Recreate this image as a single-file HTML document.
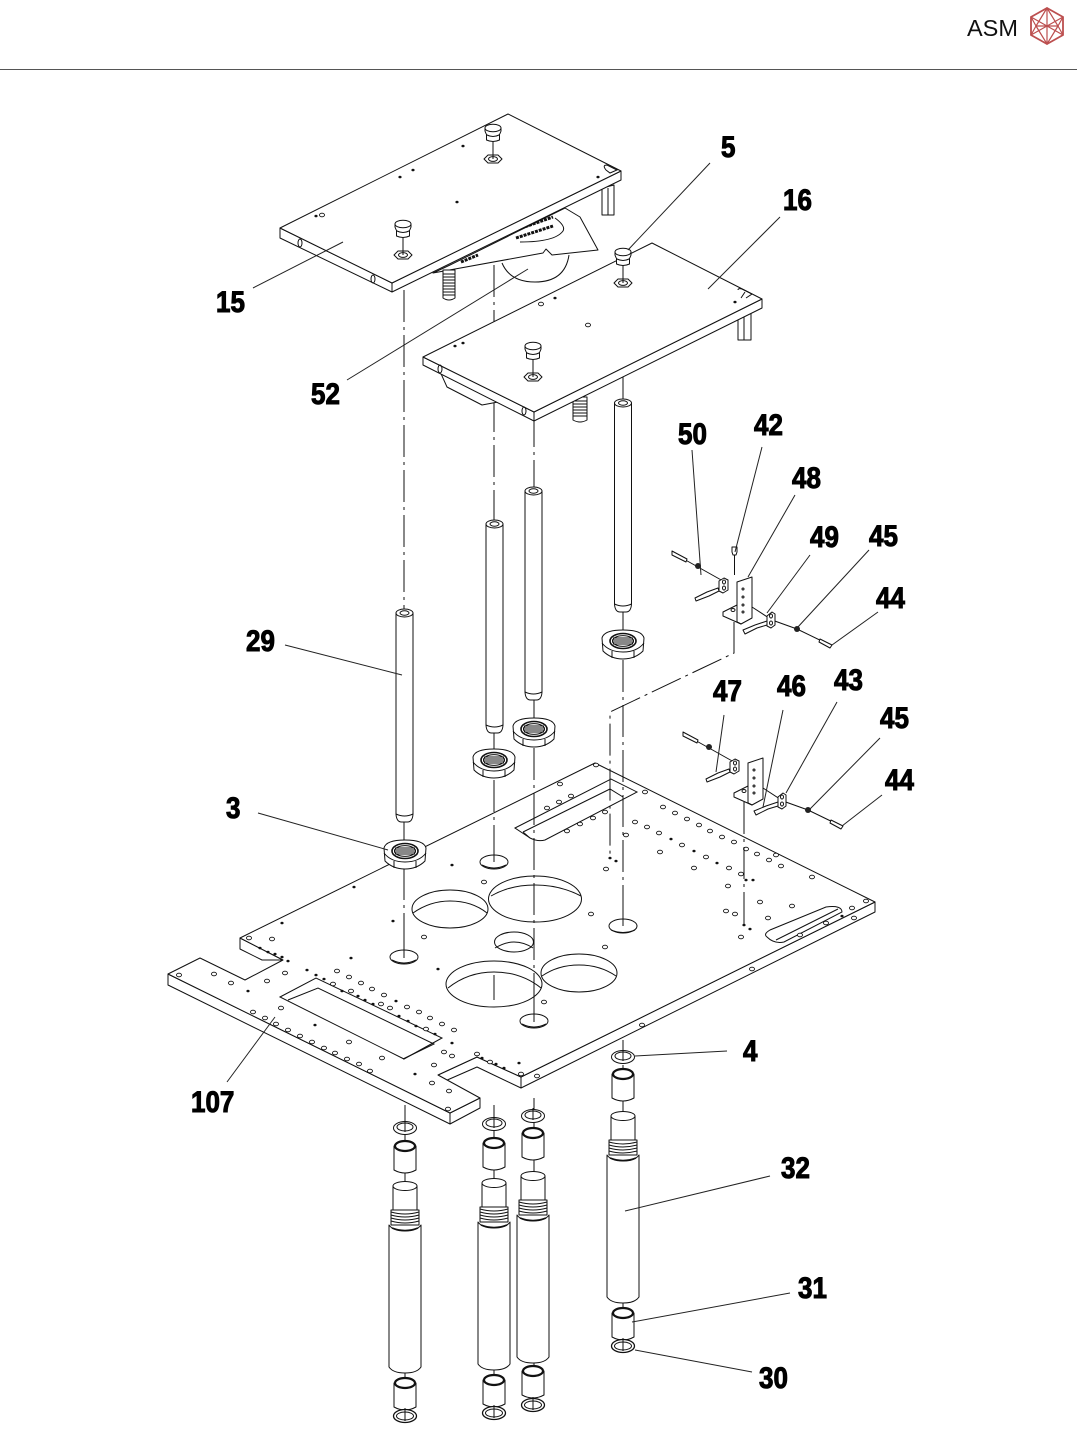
<!DOCTYPE html>
<html>
<head>
<meta charset="utf-8">
<style>
html,body{margin:0;padding:0;background:#fff;width:1077px;height:1449px;overflow:hidden}
svg{display:block}
.l{fill:none;stroke:#111;stroke-width:1}
.p{fill:#fff;stroke:#111;stroke-width:1;stroke-linejoin:round}
.ch{fill:none;stroke:#111;stroke-width:1;stroke-dasharray:32 5 3 5}
.ld{fill:none;stroke:#222;stroke-width:1}
.t{font:bold 26px "Liberation Sans",sans-serif;fill:#000;stroke:#000;stroke-width:.9}
</style>
</head>
<body>
<svg width="1077" height="1449" viewBox="0 0 1077 1449" xmlns="http://www.w3.org/2000/svg">
<defs>
<ellipse id="h" rx="2.5" ry="1.8" fill="#fff" stroke="#111" stroke-width=".9"/>
<ellipse id="d" rx="1.6" ry="1.3" fill="#111"/>
<g id="knob">
 <path class="l" d="M0 10V28"/>
 <path class="p" d="M-9 28L-5 24H5L9 28L5 32H-5Z"/>
 <ellipse class="l" cx="0" cy="28" rx="4.5" ry="2.4"/>
 <path class="l" d="M0 14V28"/>
 <path class="p" d="M-6.5 0V9Q0 12 6.5 9V0Z"/>
 <path class="p" d="M-8 -3V0Q-7 3 -6 4Q0 7 6 4Q7 3 8 0V-3Z"/>
 <ellipse class="p" cx="0" cy="-3" rx="8" ry="3.8"/>
</g>
<g id="rod">
 <path class="p" d="M-8.5 3V204Q-8 212 -3 212H3Q8 212 8.5 204V3Z"/>
 <ellipse class="p" cx="0" cy="3" rx="8.5" ry="4"/>
 <ellipse class="l" cx="0" cy="3" rx="4.5" ry="2.2"/>
 <path class="l" d="M-8.5 204Q0 208 8.5 204"/>
</g>
<g id="nut">
 <path class="p" d="M-21 -3Q-19 -11 0 -11Q19 -11 21 -3L20 10Q12 18 0 18Q-12 18 -20 10Z"/>
 <path class="l" d="M-21 2Q-14 11 0 11Q14 11 21 2M-11 10V17M11 10V17"/>
 <ellipse cx="0" cy="0" rx="13" ry="7.5" fill="#fff" stroke="#111" stroke-width="1.6"/>
 <ellipse class="l" cx="0" cy="0" rx="10.5" ry="5.4"/>
 <path class="l" d="M-10 -3H10M-11 -1H11M-11 1H11M-10 3H10"/>
</g>
<g id="tube">
 <path class="p" d="M-12 -39V-15H12V-39Z"/>
 <ellipse class="p" cx="0" cy="-39" rx="12" ry="4.5"/>
 <path class="p" d="M-14 -15V0H14V-15Z"/>
 <path class="l" d="M-14 -13Q0 -9 14 -13M-14 -10Q0 -6 14 -10M-14 -7Q0 -3 14 -7M-14 -4Q0 0 14 -4"/>
 <path class="p" d="M-16 0V142Q-12 148 0 148Q12 148 16 142V0Q12 6 0 6Q-12 6 -16 0Z"/>
 <path d="M-13 3Q0 8 13 3" fill="none" stroke="#111" stroke-width="1.6"/>
</g>
<g id="sl">
 <path class="p" d="M-11 0V24Q0 30 11 24V0Z"/>
 <ellipse cx="0" cy="0" rx="10" ry="5" fill="#fff" stroke="#111" stroke-width="2.2"/>
</g>
<g id="wu">
 <ellipse class="p" cx="0" cy="0" rx="11.5" ry="6.5"/>
 <ellipse class="l" cx="0" cy="-1" rx="8" ry="4"/>
 <path class="l" d="M0 -8V4"/>
</g>
<g id="wl">
 <ellipse cx="0" cy="0" rx="11.5" ry="6.5" fill="#fff" stroke="#111" stroke-width="1.3"/>
 <ellipse class="l" cx="0" cy="0" rx="8.5" ry="4"/>
 <path class="l" d="M0 -8V5"/>
</g>
<g id="hw">
 <path class="l" d="M673 553L723 581M752 607L772 620L797 629L830 645"/>
 <path class="p" d="M672 551L687 559L686 562L672 555Z"/>
 <ellipse cx="698" cy="566" rx="3" ry="3" fill="#222"/>
 <path class="p" d="M719 581L724 578L728 580V590L723 593L719 591Z"/>
 <ellipse class="l" cx="724" cy="582" rx="1.5" ry="2"/><ellipse class="l" cx="724" cy="588" rx="1.5" ry="2"/>
 <path class="p" d="M695 598L707 592L718 588L719 591L709 596L696 601Z"/>
 <path class="p" d="M737 582L752 577V618L741 624L737 622Z"/>
 <path class="p" d="M723 612L737 605V622L741 624L723 616Z"/>
 <circle class="l" cx="743" cy="589" r="1"/><circle class="l" cx="743" cy="597" r="1"/><circle class="l" cx="743" cy="605" r="1"/><circle class="l" cx="743" cy="612" r="1"/><ellipse class="l" cx="733" cy="610" rx="2" ry="1.5"/>
 <path class="p" d="M767 616L772 612L775 614V625L771 628L767 626Z"/>
 <ellipse class="l" cx="771" cy="616" rx="1.5" ry="2"/><ellipse class="l" cx="771" cy="623" rx="1.5" ry="2"/>
 <path class="p" d="M743 630L755 625L767 621L767 625L757 628L745 634Z"/>
 <ellipse cx="797" cy="629" rx="3" ry="3" fill="#222"/>
 <path class="p" d="M820 639L832 645L830 648L819 642Z"/>
</g>
</defs>

<!-- Header -->
<text x="967" y="36" style="font:23.5px 'Liberation Sans',sans-serif" fill="#111">ASM</text>
<g fill="none" stroke="#bc4f4f" stroke-width="1.2">
 <path stroke-width="1.8" d="M1047 8L1063 17V35L1047 44L1031 35V17Z"/>
 <path d="M1031 17L1063 35M1063 17L1031 35M1047 8V44M1047 8L1036 26H1058ZM1036 26L1047 44L1058 26M1031 17L1036 26M1063 17L1058 26M1031 35L1036 26M1063 35L1058 26"/>
</g>
<path d="M0 69.5H1077" stroke="#555" stroke-width="1"/>

<!-- Main plate -->
<path class="p" d="M875 902V912L521 1088V1077ZM521 1088L477 1067L445 1081L438 1075L477 1057L521 1077Z"/>
<path class="p" d="M480 1098V1108L450 1124V1113ZM168 974V985L450 1124V1113Z"/>
<path class="p" d="M240 938V949L262 960L283 960L240 938Z"/>
<path class="p" d="M595 763L875 902L521 1077L477 1057L438 1075L480 1098L450 1113L168 974L200 958L245 980L283 960L240 938Z"/>

<!-- Slots -->
<path class="l" d="M515 828L611 779L637 792L545 840Q538 842 530 838Z"/>
<path class="l" d="M523 832L610 789L623 797M523 832L530 838"/>
<path class="l" d="M280 997L316 978L442 1038L404 1059Z"/>
<path class="l" d="M288 1000L318 988L434 1044L403 1059"/>
<path class="l" d="M767 937Q763 934 770 930L826 907Q842 905 842 912L784 942Q774 944 767 937Z"/>
<path class="l" d="M776 940L838 909"/>

<!-- Big holes -->
<g>
 <ellipse class="p" cx="450" cy="909" rx="38" ry="19"/><path class="l" d="M413 913Q430 901 450 901Q472 901 487 913"/>
 <ellipse class="p" cx="535" cy="899" rx="46.5" ry="23"/><path class="l" d="M491 896Q510 885 535 885Q560 885 581 896"/>
 <ellipse class="p" cx="514" cy="942" rx="19.5" ry="10"/><path class="l" d="M495 948Q505 942 514 942Q524 942 533 948"/>
 <ellipse class="p" cx="494" cy="984" rx="48" ry="23"/><path class="l" d="M448 988Q468 972 494 972Q521 972 541 988"/>
 <ellipse class="p" cx="579" cy="973" rx="38" ry="19"/><path class="l" d="M542 976Q558 965 579 965Q600 965 616 976"/>
 <path class="l" d="M494 975V1000"/>
</g>
<g>
 <ellipse class="p" cx="404" cy="957" rx="14" ry="7"/><path class="l" d="M392 960Q404 966 416 960M404 938V958"/>
 <ellipse class="p" cx="494" cy="862" rx="14" ry="7"/><path class="l" d="M482 865Q494 871 506 865M494 845V862"/>
 <ellipse class="p" cx="623" cy="926" rx="14" ry="7"/><path class="l" d="M611 930Q623 935 635 930M623 908V926"/>
 <ellipse class="p" cx="534" cy="1021" rx="14" ry="7"/><path class="l" d="M522 1024Q534 1030 546 1024M534 1000V1022"/>
</g>

<!-- Small holes -->
<g>
<use href="#h" x="663" y="807"/><use href="#h" x="675" y="813"/><use href="#h" x="687" y="819"/><use href="#h" x="699" y="825"/><use href="#h" x="710" y="831"/><use href="#h" x="722" y="837"/><use href="#h" x="734" y="842"/><use href="#h" x="746" y="849"/><use href="#h" x="757" y="854"/><use href="#h" x="769" y="860"/><use href="#h" x="781" y="866"/>
<use href="#h" x="635" y="822"/><use href="#h" x="647" y="827"/><use href="#h" x="659" y="833"/><use href="#d" x="671" y="839"/><use href="#h" x="682" y="845"/><use href="#d" x="694" y="851"/><use href="#h" x="706" y="857"/><use href="#d" x="717" y="863"/><use href="#h" x="729" y="868"/><use href="#h" x="741" y="874"/>
<use href="#h" x="626" y="835"/><use href="#h" x="660" y="852"/><use href="#h" x="694" y="868"/><use href="#h" x="728" y="886"/><use href="#h" x="760" y="902"/><use href="#h" x="792" y="906"/><use href="#h" x="768" y="918"/><use href="#h" x="726" y="911"/><use href="#h" x="735" y="914"/><use href="#h" x="741" y="937"/><use href="#h" x="812" y="877"/><use href="#h" x="776" y="855"/><use href="#h" x="852" y="908"/><use href="#h" x="800" y="935"/><use href="#h" x="826" y="923"/><use href="#d" x="842" y="916"/><use href="#d" x="746" y="880"/><use href="#d" x="753" y="880"/><use href="#d" x="610" y="858"/><use href="#d" x="616" y="861"/>
<use href="#d" x="744" y="925"/><use href="#d" x="750" y="929"/><use href="#h" x="560" y="784"/><use href="#h" x="571" y="796"/><use href="#h" x="559" y="802"/><use href="#h" x="547" y="808"/><use href="#h" x="605" y="812"/><use href="#h" x="593" y="818"/><use href="#h" x="580" y="824"/><use href="#h" x="567" y="831"/><use href="#h" x="645" y="792"/><use href="#h" x="596" y="765"/>
<use href="#h" x="606" y="869"/><use href="#h" x="484" y="882"/><use href="#h" x="591" y="914"/><use href="#h" x="424" y="937"/><use href="#h" x="605" y="947"/><use href="#h" x="544" y="1002"/>
<use href="#h" x="337" y="971"/><use href="#h" x="349" y="977"/><use href="#h" x="361" y="983"/><use href="#h" x="372" y="989"/><use href="#h" x="384" y="995"/><use href="#d" x="396" y="1001"/><use href="#h" x="407" y="1007"/><use href="#h" x="419" y="1012"/><use href="#h" x="430" y="1018"/><use href="#h" x="442" y="1024"/>
<use href="#d" x="324" y="979"/><use href="#h" x="333" y="984"/><use href="#d" x="342" y="991"/><use href="#h" x="351" y="991"/><use href="#d" x="358" y="996"/><use href="#d" x="365" y="1000"/><use href="#d" x="373" y="1004"/><use href="#h" x="381" y="1004"/><use href="#h" x="390" y="1008"/><use href="#d" x="399" y="1016"/><use href="#d" x="408" y="1021"/><use href="#d" x="416" y="1026"/><use href="#h" x="426" y="1029"/><use href="#d" x="435" y="1034"/>
<use href="#h" x="454" y="1030"/><use href="#d" x="452" y="1043"/><use href="#h" x="444" y="1052"/><use href="#h" x="452" y="1056"/><use href="#h" x="434" y="1065"/><use href="#h" x="432" y="1083"/><use href="#h" x="449" y="1091"/><use href="#d" x="415" y="1074"/><use href="#h" x="382" y="1058"/><use href="#h" x="359" y="1064"/><use href="#h" x="347" y="1059"/><use href="#h" x="370" y="1071"/><use href="#h" x="335" y="1053"/><use href="#h" x="324" y="1048"/><use href="#h" x="312" y="1042"/><use href="#h" x="300" y="1036"/><use href="#h" x="288" y="1030"/><use href="#h" x="276" y="1024"/><use href="#h" x="265" y="1018"/><use href="#h" x="253" y="1012"/><use href="#h" x="281" y="1008"/><use href="#h" x="349" y="1042"/><use href="#d" x="315" y="1025"/><use href="#d" x="248" y="991"/><use href="#h" x="231" y="983"/><use href="#h" x="267" y="981"/><use href="#h" x="285" y="973"/><use href="#h" x="214" y="974"/><use href="#h" x="179" y="975"/><use href="#h" x="249" y="938"/><use href="#h" x="272" y="939"/><use href="#d" x="260" y="948"/><use href="#d" x="268" y="952"/><use href="#d" x="275" y="954"/><use href="#d" x="282" y="957"/><use href="#d" x="288" y="961"/><use href="#d" x="307" y="970"/><use href="#d" x="316" y="975"/><use href="#d" x="351" y="958"/><use href="#d" x="282" y="923"/><use href="#d" x="393" y="921"/><use href="#d" x="438" y="969"/><use href="#d" x="452" y="865"/><use href="#d" x="354" y="887"/>
<use href="#h" x="477" y="1054"/><use href="#d" x="482" y="1058"/><use href="#h" x="490" y="1062"/><use href="#d" x="496" y="1064"/><use href="#d" x="504" y="1068"/><use href="#d" x="519" y="1063"/><use href="#h" x="521" y="1074"/><use href="#h" x="537" y="1076"/><use href="#h" x="642" y="1025"/><use href="#h" x="752" y="969"/><use href="#h" x="854" y="918"/><use href="#h" x="866" y="901"/><use href="#h" x="448" y="1109"/>
</g>

<!-- Chain centre lines (over the main plate) -->
<g>
 <path class="ch" d="M404 290V612"/>
 <path class="ch" d="M494 265V525"/>
 <path class="ch" d="M534 415V492"/>
 <path class="ch" d="M623 375V402"/>
 <path class="ch" d="M404 822V845"/>
 <path class="ch" d="M404 868V940"/>
 <path class="ch" d="M494 733V752"/>
 <path class="ch" d="M494 780V846"/>
 <path class="ch" d="M534 698V722"/>
 <path class="ch" d="M534 748V1003"/>
 <path class="ch" d="M623 610V632"/>
 <path class="ch" d="M623 660V910"/>
 <path class="ch" d="M734 622V653L610 712V858"/>
 <path class="ch" d="M744 802V925"/>
</g>

<!-- Mechanism under plate 15 -->
<path class="l" d="M502 263Q510 282 535 282Q565 282 569 255"/>
<path class="p" d="M433 273L543 253L546 249L552 255L598 250L580 217L565 208L450 265Z"/>
<path class="l" d="M555 218Q566 226 563 231Q555 242 520 242"/>
<path d="M461 262L478 255M510 232L553 217M516 238L553 226" fill="none" stroke="#111" stroke-width="3" stroke-dasharray="3 1"/>
<!-- Threaded bolt under plate 15 -->
<path class="p" d="M443 270V298Q449 302 455 298V270Z"/>
<path class="l" d="M443 274H455M443 277H455M443 280H455M443 283H455M443 286H455M443 289H455M443 292H455M443 295H455"/>
<!-- Spacer pins plate 15 -->
<path class="p" d="M602 188V215H614V185Z"/><path class="l" d="M608 188V215"/>
<!-- Plate 15 -->
<path class="p" d="M280 228V238L392 292V283ZM392 292L621 180V171L392 283Z"/>
<path class="p" d="M508 114L621 171L392 283L280 228Z"/>
<ellipse class="l" cx="300" cy="243" rx="2" ry="4"/><ellipse class="l" cx="373" cy="279" rx="2" ry="4"/>
<path class="l" d="M606 170Q602 165 607 165L617 170L610 173Z"/>
<use href="#d" x="400" y="177"/><use href="#d" x="413" y="170"/><use href="#d" x="457" y="202"/><use href="#d" x="598" y="177"/><use href="#d" x="316" y="216"/><use href="#h" x="322" y="215"/><use href="#d" x="463" y="146"/>
<use href="#knob" x="493" y="131"/><use href="#knob" x="403" y="227"/>

<!-- Under plate 16 -->
<path class="p" d="M438 367L447 387L482 405L498 402L470 388Z"/>
<path class="p" d="M573 397V420Q580 424 587 420V397Z"/>
<path class="l" d="M573 401H587M573 404H587M573 407H587M573 410H587M573 413H587M573 416H587"/>
<path class="p" d="M738 315V340H751V312Z"/><path class="l" d="M744 316V340"/>
<!-- Plate 16 -->
<path class="p" d="M423 357V365L534 421V412ZM534 421L762 308V299L534 412Z"/>
<path class="p" d="M652 243L762 299L534 412L423 357Z"/>
<ellipse class="l" cx="440" cy="369" rx="2" ry="4"/><ellipse class="l" cx="524" cy="411" rx="2" ry="4"/>
<path class="l" d="M738 290Q738 288 742 289L752 294L746 298M741 298L745 292"/>
<use href="#d" x="455" y="346"/><use href="#d" x="463" y="343"/><use href="#h" x="588" y="325"/><use href="#d" x="555" y="298"/><use href="#h" x="541" y="304"/><use href="#d" x="735" y="302"/>
<use href="#knob" x="623" y="255"/><use href="#knob" x="533" y="349"/>

<!-- Rods -->
<use href="#rod" x="404.5" y="610"/>
<use href="#rod" x="494.5" y="521"/>
<use href="#rod" x="533.5" y="488"/>
<use href="#rod" x="623" y="400"/>

<!-- Nuts -->
<use href="#nut" x="405" y="851"/>
<use href="#nut" x="494" y="760"/>
<use href="#nut" x="534" y="729"/>
<use href="#nut" x="623" y="641"/>

<!-- Bracket hardware -->
<path class="p" d="M732 547H737V552L736 555H733L732 552Z"/><path class="l" d="M734.5 555V575"/>
<use href="#hw"/>
<g transform="translate(11 181)"><use href="#hw"/></g>

<!-- Bottom columns -->
<path class="ch" d="M405 1105V1124M494 1105V1120M534 1098V1112M623 1040V1050M623 1065V1075"/>
<path class="l" d="M405 1105V1180M405 1168V1190M405 1368V1385M405 1405V1415"/>
<path class="l" d="M494 1105V1182M494 1364V1380M494 1402V1412"/>
<path class="l" d="M534 1102V1175M534 1356V1370M534 1394V1403"/>
<path class="l" d="M623 1095V1115M623 1300V1312M623 1334V1345"/>

<use href="#wu" x="405" y="1128"/><use href="#sl" x="405" y="1146"/><use href="#tube" x="405" y="1225"/><use href="#sl" x="405" y="1383"/><use href="#wl" x="405" y="1416"/>
<use href="#wu" x="494" y="1124"/><use href="#sl" x="494" y="1143"/><use href="#tube" x="494" y="1222"/><use href="#sl" x="494" y="1380"/><use href="#wl" x="494" y="1413"/>
<use href="#wu" x="533" y="1116"/><use href="#sl" x="533" y="1133"/><use href="#tube" x="533" y="1215"/><use href="#sl" x="533" y="1371"/><use href="#wl" x="533" y="1405"/>
<use href="#wu" x="623" y="1057"/><use href="#sl" x="623" y="1074"/><use href="#tube" x="623" y="1155"/><use href="#sl" x="623" y="1313"/><use href="#wl" x="623" y="1346"/>

<!-- Leaders -->
<g>
<path class="ld" d="M710 163L628 250"/>
<path class="ld" d="M780 217L708 289"/>
<path class="ld" d="M253 288L343 242"/>
<path class="ld" d="M347 380L528 269"/>
<path class="ld" d="M692 450L701 575"/>
<path class="ld" d="M762 447L735 552"/>
<path class="ld" d="M795 495L748 577"/>
<path class="ld" d="M810 555L767 613"/>
<path class="ld" d="M869 550L797 628"/>
<path class="ld" d="M878 612L832 645"/>
<path class="ld" d="M285 645L402 675"/>
<path class="ld" d="M724 715L716 772"/>
<path class="ld" d="M783 710L763 807"/>
<path class="ld" d="M837 702L786 793"/>
<path class="ld" d="M880 738L809 810"/>
<path class="ld" d="M882 795L842 826"/>
<path class="ld" d="M258 813L388 850"/>
<path class="ld" d="M727 1051L635 1056"/>
<path class="ld" d="M770 1176L625 1211"/>
<path class="ld" d="M790 1293L632 1322"/>
<path class="ld" d="M752 1372L635 1350"/>
<path class="ld" d="M227 1082L275 1017"/>
</g>

<!-- Labels -->
<g class="t">
<text transform="translate(721 157) scale(1 1.15)">5</text>
<text transform="translate(783 210) scale(1 1.15)">16</text>
<text transform="translate(216 312) scale(1 1.15)">15</text>
<text transform="translate(311 404) scale(1 1.15)">52</text>
<text transform="translate(678 444) scale(1 1.15)">50</text>
<text transform="translate(754 435) scale(1 1.15)">42</text>
<text transform="translate(792 488) scale(1 1.15)">48</text>
<text transform="translate(810 547) scale(1 1.15)">49</text>
<text transform="translate(869 546) scale(1 1.15)">45</text>
<text transform="translate(876 608) scale(1 1.15)">44</text>
<text transform="translate(246 651) scale(1 1.15)">29</text>
<text transform="translate(713 701) scale(1 1.15)">47</text>
<text transform="translate(777 696) scale(1 1.15)">46</text>
<text transform="translate(834 690) scale(1 1.15)">43</text>
<text transform="translate(880 728) scale(1 1.15)">45</text>
<text transform="translate(885 790) scale(1 1.15)">44</text>
<text transform="translate(226 818) scale(1 1.15)">3</text>
<text transform="translate(743 1061) scale(1 1.15)">4</text>
<text transform="translate(781 1178) scale(1 1.15)">32</text>
<text transform="translate(798 1298) scale(1 1.15)">31</text>
<text transform="translate(759 1388) scale(1 1.15)">30</text>
<text transform="translate(191 1112) scale(1 1.15)">107</text>
</g>
</svg>
</body>
</html>
